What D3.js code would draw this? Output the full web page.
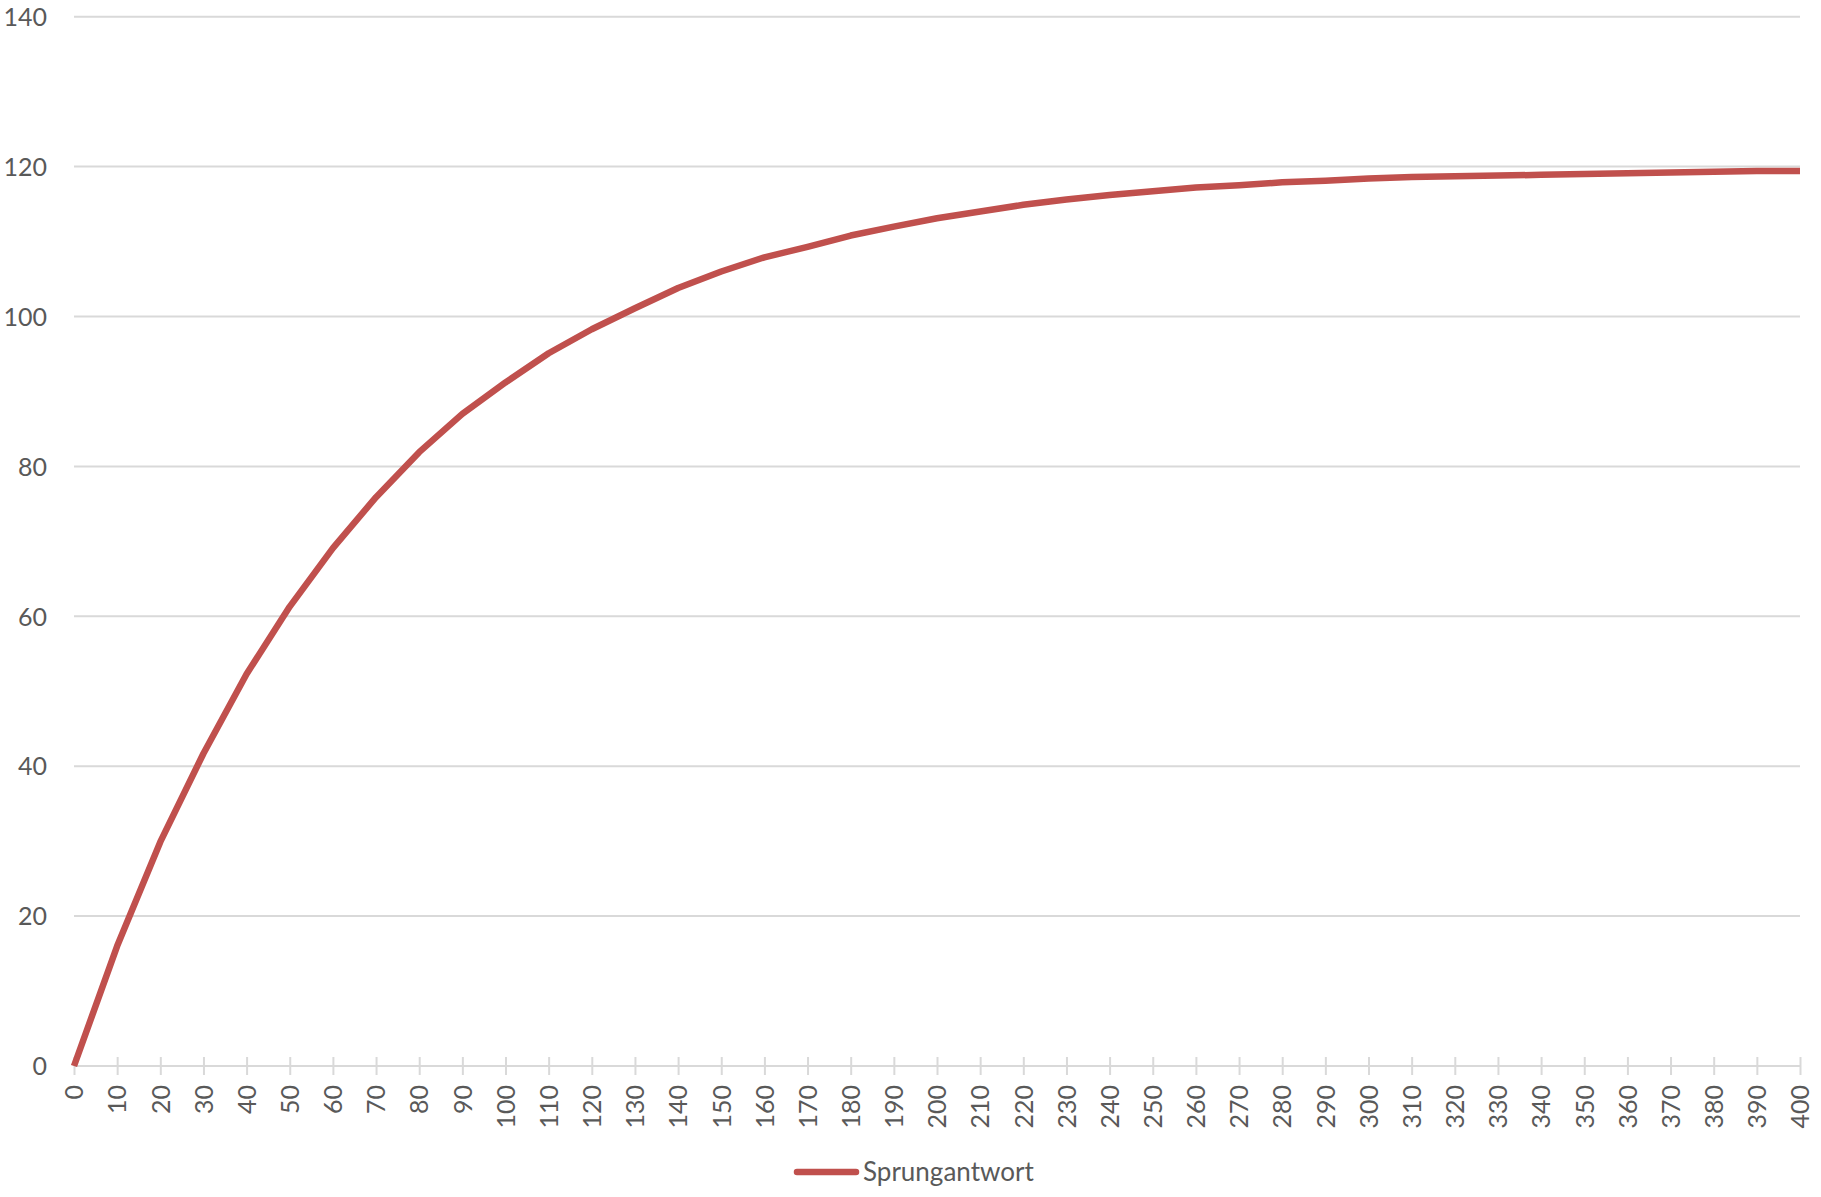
<!DOCTYPE html>
<html>
<head>
<meta charset="utf-8">
<script src="https://cdn.jsdelivr.net/npm/d3@7"></script>
<style>
  html, body { margin: 0; padding: 0; background: #ffffff; }
  svg { display: block; }
  text { font-family: Lato, "Open Sans", Calibri, sans-serif; fill: #595959; }
</style>
</head>
<body>
<svg id="chart" width="1821" height="1197"></svg>
<script>
// ---- data ----
const categories = ["0","10","20","30","40","50","60","70","80","90","100","110","120","130","140","150","160","170","180","190","200","210","220","230","240","250","260","270","280","290","300","310","320","330","340","350","360","370","380","390","400"];
const seriesName = "Sprungantwort";
const values = [0, 16.0, 29.9, 41.7, 52.3, 61.3, 69.1, 75.9, 81.9, 87.0, 91.2, 95.1, 98.3, 101.1, 103.8, 106.0, 107.9, 109.3, 110.8, 112.0, 113.1, 114.0, 114.9, 115.6, 116.2, 116.7, 117.2, 117.5, 117.9, 118.1, 118.4, 118.6, 118.7, 118.8, 118.9, 119.0, 119.1, 119.2, 119.3, 119.4, 119.4];
const yTicks = [0, 20, 40, 60, 80, 100, 120, 140];

// ---- layout ----
const svg = d3.select("#chart");
const plotLeft = 74, plotRight = 1800, plotTop = 16.7, plotBottom = 1066;
const x = d3.scalePoint().domain(categories).range([plotLeft, plotRight]).padding(0);
const y = d3.scaleLinear().domain([0, 140]).range([plotBottom, plotTop]);

const gridColor = "#d9d9d9";
const lineColor = "#c0504d";
const fontStack = 'Lato, "Open Sans", Calibri, sans-serif';

// gridlines
svg.append("g").selectAll("line").data(yTicks).join("line")
  .attr("x1", plotLeft).attr("x2", plotRight)
  .attr("y1", d => y(d)).attr("y2", d => y(d))
  .attr("stroke", gridColor).attr("stroke-width", 2);

// y axis labels
const yAxis = svg.append("g").attr("transform", `translate(${plotLeft - 27},0)`)
  .call(d3.axisLeft(y).tickValues(yTicks).tickSize(0).tickPadding(0).tickFormat(d3.format("d")));
yAxis.select(".domain").remove();
yAxis.selectAll("text")
  .style("font-family", fontStack)
  .style("font-size", "25px").style("fill", "#595959")
  .attr("x", 0).attr("dy", "0.35em").attr("text-anchor", "end");

// x axis
const xAxis = svg.append("g").attr("transform", `translate(0,${plotBottom})`)
  .call(d3.axisBottom(x).tickSize(0).tickPadding(0));
xAxis.select(".domain").attr("stroke", gridColor).attr("stroke-width", 2)
  .attr("d", `M${plotLeft},0H${plotRight}`);
xAxis.selectAll(".tick").append("line")
  .attr("y1", -9).attr("y2", 9).attr("stroke", gridColor).attr("stroke-width", 2);
xAxis.selectAll(".tick text")
  .style("font-family", fontStack)
  .style("font-size", "25px").style("fill", "#595959")
  .attr("transform", "rotate(-90)")
  .attr("x", -19).attr("y", 0).attr("dy", "0.35em")
  .attr("text-anchor", "end");

// series line
const line = d3.line().x((d, i) => x(categories[i])).y(d => y(d));
svg.append("path").datum(values)
  .attr("d", line)
  .attr("fill", "none").attr("stroke", lineColor)
  .attr("stroke-width", 6.5).attr("stroke-linejoin", "round").attr("stroke-linecap", "butt");

// legend
const lg = svg.append("g");
lg.append("line").attr("x1", 797).attr("x2", 856).attr("y1", 1172).attr("y2", 1172)
  .attr("stroke", lineColor).attr("stroke-width", 6.5).attr("stroke-linecap", "round");
lg.append("text").attr("x", 863).attr("y", 1172).attr("dy", "0.35em")
  .style("font-family", fontStack)
  .style("font-size", "26px").text(seriesName);
</script>
</body>
</html>
